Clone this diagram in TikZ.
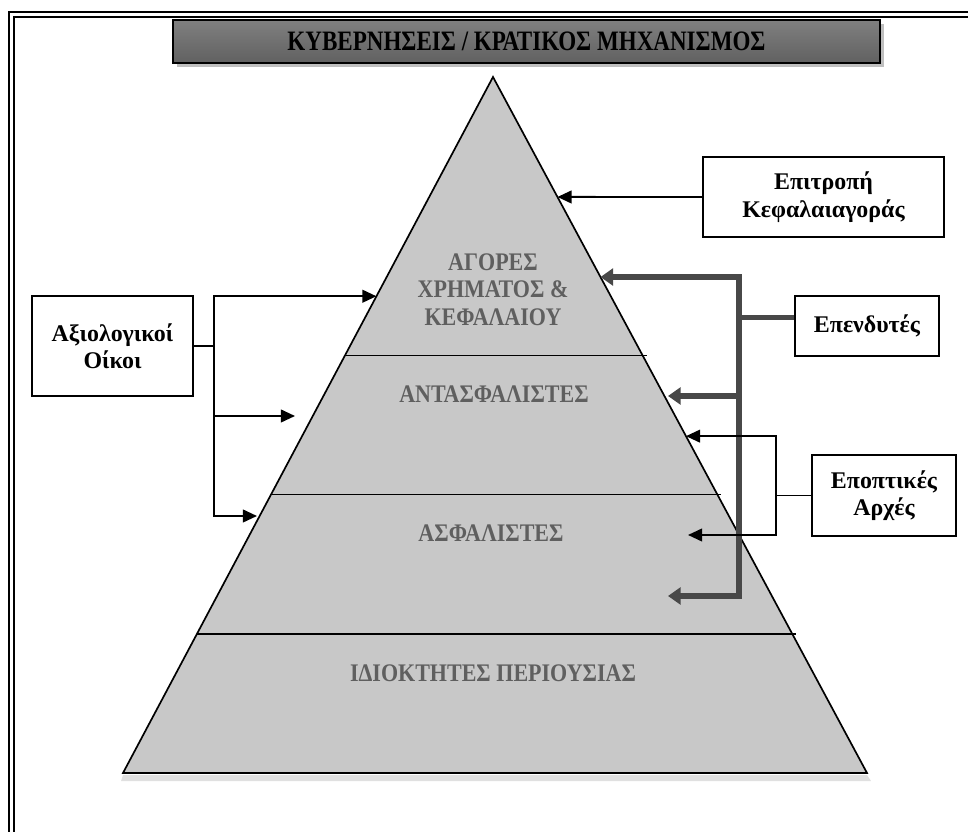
\documentclass[tikz,border=0pt]{standalone}
\usepackage{fontspec}
\setmainfont{Liberation Serif}
\newfontfamily\tierfont{Liberation Serif}[FakeStretch=0.87]
\usetikzlibrary{calc,arrows.meta,positioning}
\definecolor{pyrgray}{RGB}{200,200,200}
\definecolor{tiergray}{RGB}{95,95,95}
\definecolor{heavygray}{RGB}{72,72,72}

\tikzset{
  infobox/.style={draw=black,line width=1.4pt,fill=white,align=center,
    font=\fontsize{17}{19.5}\selectfont\bfseries,inner sep=0pt},
  conn/.style={line width=1.4pt,line join=miter},
  heavy/.style={line width=3.8pt,heavygray,line join=miter},
  tier/.style={tiergray,align=center,font=\tierfont\fontsize{18}{19.6}\selectfont\bfseries},
  thintip/.tip={Triangle[length=10pt,width=9pt]},
  heavytip/.tip={Triangle[length=9pt,width=12pt]},
}

\begin{document}
\begin{tikzpicture}[x=0.025cm,y=-0.025cm]
  \useasboundingbox (0,0) rectangle (968,832);

  % frame
  \draw[line width=2pt] (9,840) -- (9,12) -- (975,12);
  \draw[line width=0.9pt] (14,840) -- (14,17) -- (975,17);

  % title bar
  \fill[black!25] (177,24) rectangle (884,67);
  \node[draw=black,line width=1.4pt,minimum width=17.675cm,minimum height=1.075cm,
        top color=black!50,middle color=white,bottom color=black!62,inner sep=0pt]
        (gov) at (526.5,41.5)
        {\fontsize{20}{20}\selectfont\bfseries\scalebox{0.82}[1]{ΚΥΒΕΡΝΗΣΕΙΣ / ΚΡΑΤΙΚΟΣ ΜΗΧΑΝΙΣΜΟΣ}};

  % pyramid
  \coordinate (T) at (493,77);
  \coordinate (BL) at (123,773);
  \coordinate (BR) at (867,773);
  \fill[black!12] ($(BL)+(0,2)$) -- ($(BR)+(0,2)$) -- ($(BR)+(4,8)$) -- ($(BL)+(-2,8)$) -- cycle;
  \fill[pyrgray] (T) -- (BL) -- (BR) -- cycle;
  \draw[line width=1.2pt] (T) -- (BL) -- (BR) -- cycle;
  \foreach \t in {0.4,0.6,0.8}
    \draw[line width=1.2pt] ($(T)!\t!(BL)$) -- ($(T)!\t!(BR)+(4,0)$);

  \node[tier] (money) at (493,289.5) {ΑΓΟΡΕΣ\\ΧΡΗΜΑΤΟΣ \&\\ΚΕΦΑΛΑΙΟΥ};
  \node[tier] (reins) at (494,394) {ΑΝΤΑΣΦΑΛΙΣΤΕΣ};
  \node[tier] (ins) at (491,533) {ΑΣΦΑΛΙΣΤΕΣ};
  \node[tier] (owners) at (493,673) {ΙΔΙΟΚΤΗΤΕΣ ΠΕΡΙΟΥΣΙΑΣ};

  % boxes
  \node[infobox,minimum width=4.025cm,minimum height=2.5cm] (ratings) at (112.5,346)
    {Αξιολογικοί\\Οίκοι};
  \node[infobox,minimum width=6.025cm,minimum height=2cm] (cmc) at (823.5,197)
    {Επιτροπή\\Κεφαλαιαγοράς};
  \node[infobox,minimum width=3.6cm,minimum height=1.5cm] (inv) at (867,326)
    {Επενδυτές};
  \node[infobox,minimum width=3.6cm,minimum height=2.025cm] (sup) at (884,495.5)
    {Εποπτικές\\Αρχές};

  % targets on the pyramid
  \coordinate (RJ) at (214,0);
  \coordinate (R1) at ($(T)!0.315!(BL)$);
  \coordinate (R2) at (295,416);
  \coordinate (R3) at (257,516);
  \coordinate (E1) at ($(T)!0.1724!(BR)$);
  \coordinate (IJ) at (739,0);
  \coordinate (I1) at ($(T)!0.2874!(BR)$);
  \coordinate (I2) at (668,396);
  \coordinate (I3) at (668,596);
  \coordinate (SJ) at (776,0);
  \coordinate (S1) at ($(T)!0.516!(BR)$);
  \coordinate (S2) at (688,535);

  % rating agencies
  \draw[conn] (ratings.east) -- (ratings.east -| RJ);
  \draw[conn,thintip-thintip] (R1) -- (R1 -| RJ) -- (R3 -| RJ) -- (R3);
  \draw[conn,-thintip] (R2 -| RJ) -- (R2);

  % capital market commission
  \draw[conn,-thintip] (cmc.west) -- (E1);

  % investors
  \draw[heavy] ([yshift=6pt]inv.west) -- ([yshift=6pt]inv.west -| IJ);
  \draw[heavy,heavytip-heavytip] (I1) -- (I1 -| IJ) -- (I3 -| IJ) -- (I3);
  \draw[heavy,-heavytip] (I2 -| IJ) -- (I2);

  % supervisory authorities
  \draw[conn] (sup.west) -- (sup.west -| SJ);
  \draw[conn,thintip-thintip] (S1) -- (S1 -| SJ) -- (S2 -| SJ) -- (S2);
\end{tikzpicture}
\end{document}
